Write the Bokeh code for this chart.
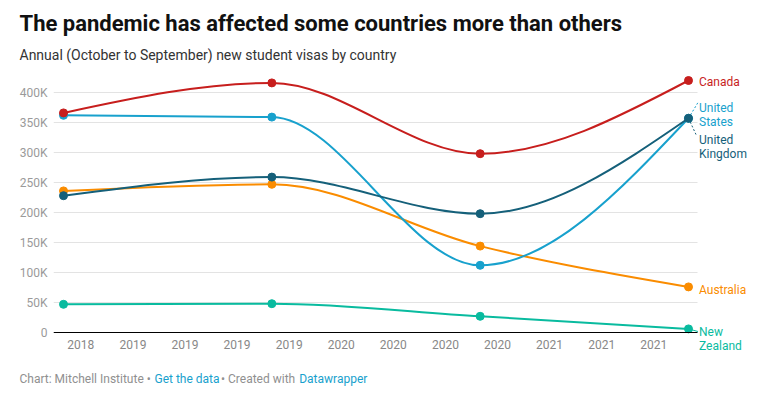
import numpy as np
from bokeh.plotting import figure
from bokeh.layouts import column
from bokeh.models import FixedTicker, Range1d, Grid
from bokeh.core.properties import value
from bokeh.embed import file_html
from bokeh.resources import INLINE

# ---- data -------------------------------------------------------------
# x: months since September 2018 (year ending September)
months = [0, 12, 24, 36]
canada = [366000, 416000, 298000, 420000]
united_states = [362000, 359000, 112000, 357000]
united_kingdom = [228000, 259000, 198000, 357000]
australia = [236000, 247000, 144000, 76000]
new_zealand = [47000, 48000, 27000, 6000]

x_ticks = [1, 4, 7, 10, 13, 16, 19, 22, 25, 28, 31, 34]
x_tick_labels = ["2018", "2019", "2019", "2019", "2019", "2020",
                 "2020", "2020", "2020", "2021", "2021", "2021"]
y_ticks = [0, 50000, 100000, 150000, 200000, 250000, 300000, 350000, 400000]
y_tick_labels = ["0", "50K", "100K", "150K", "200K", "250K", "300K", "350K", "400K"]

title_text = "The pandemic has affected some countries more than others"
subtitle_text = "Annual (October to September) new student visas by country"

# ---- colours ------------------------------------------------------------
C_CAN = "#c71e1d"
C_US = "#18a1cd"
C_UK = "#15607a"
C_AUS = "#fa8c00"
C_NZ = "#09bb9f"
FONT = "Roboto"

W = 777
HEAD_H, MAIN_H, FOOT_H = 70, 302, 22

# ---- page pixels -> main-chart data ------------------------------------
X0_PAGE, X_PX_PER_MONTH = 63.0, 625.0 / 36.0
Y0_PAGE, Y_PX_PER_UNIT = 332.0, 0.0006


def dx(page_x):
    return (page_x - X0_PAGE) / X_PX_PER_MONTH


def dy(page_y):
    return (Y0_PAGE - page_y) / Y_PX_PER_UNIT


def blank(height, y_top):
    f = figure(width=W, height=height, output_backend="svg",
               toolbar_location=None, tools="",
               x_axis_type=None, y_axis_type=None,
               min_border=0, min_border_left=0, min_border_right=0,
               min_border_top=0, min_border_bottom=0,
               x_range=Range1d(0, W), y_range=Range1d(y_top + height, y_top))
    f.frame_align = False
    f.outline_line_color = None
    f.background_fill_color = "white"
    f.border_fill_color = "white"
    f.grid.visible = False
    return f


# ---- header ---------------------------------------------------------------
head = blank(HEAD_H, 0)
head.text(x=[19], y=[23], text=[title_text], text_font=value(FONT),
          text_font_size="22px", text_font_style="bold", text_color="#111111",
          text_baseline="middle", text_align="left")
head.text(x=[19], y=[54.7], text=[subtitle_text], text_font=value(FONT),
          text_font_size="14px", text_color="#333333",
          text_baseline="middle", text_align="left")

# ---- main chart -----------------------------------------------------------
FRAME_BOTTOM_PAGE = 352
p = figure(width=W, height=MAIN_H, output_backend="svg", toolbar_location=None,
           tools="", min_border_left=53, min_border_right=0,
           min_border_top=0, min_border_bottom=HEAD_H + MAIN_H - FRAME_BOTTOM_PAGE,
           x_range=Range1d(dx(53), dx(777)),
           y_range=Range1d(dy(FRAME_BOTTOM_PAGE), dy(70)))
p.frame_align = False
p.outline_line_color = None
p.background_fill_color = "white"
p.border_fill_color = "white"

p.xaxis.fixed_location = 0
p.xaxis.ticker = FixedTicker(ticks=x_ticks)
p.xaxis.major_label_overrides = dict(zip(x_ticks, x_tick_labels))
p.xaxis.bounds = (dx(53), dx(697))
p.xaxis.major_tick_line_color = None
p.xaxis.minor_tick_line_color = None
p.xaxis.major_tick_out = 0
p.xaxis.major_tick_in = 0
p.xaxis.axis_line_color = "#000000"
p.xaxis.axis_line_width = 1
p.xaxis.major_label_standoff = 7
p.xaxis.major_label_text_font = FONT
p.xaxis.major_label_text_font_size = "12px"
p.xaxis.major_label_text_color = "#888888"

p.yaxis.ticker = FixedTicker(ticks=y_ticks)
p.yaxis.major_label_overrides = dict(zip(y_ticks, y_tick_labels))
p.yaxis.major_tick_line_color = None
p.yaxis.minor_tick_line_color = None
p.yaxis.major_tick_out = 0
p.yaxis.major_tick_in = 0
p.yaxis.axis_line_color = None
p.yaxis.major_label_standoff = 6
p.yaxis.major_label_text_font = FONT
p.yaxis.major_label_text_font_size = "12px"
p.yaxis.major_label_text_color = "#9a9a9a"

p.xgrid.visible = False
p.ygrid.ticker = FixedTicker(ticks=y_ticks)
p.ygrid.cross_bounds = (dx(53), dx(697))
p.ygrid.grid_line_color = "#e3e3e3"
p.ygrid.grid_line_width = 1


def monotone_segments(xs, ys):
    """Cubic Bezier segments equivalent to d3.curveMonotoneX."""
    xs = np.asarray(xs, float)
    ys = np.asarray(ys, float)
    n = len(xs)
    h = np.diff(xs)
    s = np.diff(ys) / h
    t = np.zeros(n)
    for i in range(1, n - 1):
        h0, h1 = h[i - 1], h[i]
        s0, s1 = s[i - 1], s[i]
        pp = (s0 * h1 + s1 * h0) / (h0 + h1)
        t[i] = (np.sign(s0) + np.sign(s1)) * min(abs(s0), abs(s1), 0.5 * abs(pp))
    t[0] = (3 * s[0] - t[1]) / 2
    t[-1] = (3 * s[-1] - t[-2]) / 2
    d = h / 3.0
    return dict(x0=xs[:-1], y0=ys[:-1], x1=xs[1:], y1=ys[1:],
                cx0=xs[:-1] + d, cy0=ys[:-1] + d * t[:-1],
                cx1=xs[1:] - d, cy1=ys[1:] - d * t[1:])


series = [
    (new_zealand, C_NZ),
    (australia, C_AUS),
    (united_states, C_US),
    (united_kingdom, C_UK),
    (canada, C_CAN),
]

# connector lines from end points to labels
p.segment(x0=[months[-1]], y0=[united_states[-1]], x1=[dx(697.5)], y1=[dy(102)],
          line_color=C_US, line_width=1, line_dash="2 2")
p.segment(x0=[months[-1]], y0=[united_kingdom[-1]], x1=[dx(695.5)], y1=[dy(134)],
          line_color=C_UK, line_width=1, line_dash="2 2")
p.segment(x0=[months[-1]], y0=[new_zealand[-1]], x1=[dx(697.5)], y1=[dy(331)],
          line_color=C_NZ, line_width=1)

for vals, col in series:
    seg = monotone_segments(months, vals)
    p.bezier(line_color=col, line_width=2, **seg)
    p.scatter(months, vals, size=8, fill_color=col, line_color=col)

label_text = ["Canada", "United", "States", "United", "Kingdom",
              "Australia", "New", "Zealand"]
label_page_y = [81, 107, 121, 139, 153, 289, 331, 345]
label_color = [C_CAN, C_US, C_US, C_UK, C_UK, C_AUS, C_NZ, C_NZ]
p.text(x=[dx(698.5)] * len(label_text), y=[dy(v) for v in label_page_y],
       text=label_text, text_color=label_color, text_font=value(FONT),
       text_font_size="12px", text_baseline="middle", text_align="left")

# ---- footer ---------------------------------------------------------------
foot = blank(FOOT_H, HEAD_H + MAIN_H)
foot_text = ["Chart: Mitchell Institute \u2022", "Get the data",
             "\u2022 Created with", "Datawrapper"]
foot_x = [19, 154, 220.5, 298.7]
foot_color = ["#909090", C_US, "#909090", C_US]
foot.text(x=foot_x, y=[378.5] * 4, text=foot_text, text_color=foot_color,
          text_font=value(FONT), text_font_size="12px",
          text_baseline="middle", text_align="left")

layout = column(head, p, foot, spacing=0)
open("out.html", "w").write(file_html(layout, INLINE))
